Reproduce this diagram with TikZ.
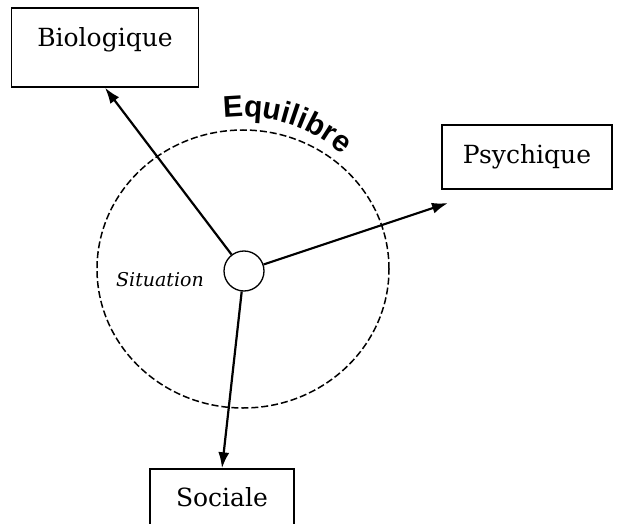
\documentclass[tikz,border=0pt]{standalone}
\usepackage{fontspec}
\setmainfont{DejaVu Serif}
\newfontfamily\equifont{Liberation Sans}
\usetikzlibrary{arrows.meta, positioning, decorations.text}

\begin{document}
\begin{tikzpicture}[x=1pt, y=1pt,
    box/.style={draw, line width=1.4pt, inner sep=0pt, font=\fontsize{25}{30}\selectfont},
    link/.style={-{Latex[length=16pt, width=11pt]}, line width=2.2pt}]
  \useasboundingbox (0,0) rectangle (618,523);
  \clip (0,0) rectangle (618,523);
  % equilibre zone
  \draw[line width=1.5pt, dash pattern=on 7pt off 3pt] (243,254) ellipse [x radius=146, y radius=139];
  \path[decorate, decoration={text along path, text align=center,
      text={|\equifont\bfseries\fontsize{30}{34}\selectfont|Equilibre}}]
    (222,404.5) arc[start angle=98, end angle=48, radius=151];
  \node (sit) [draw, circle, minimum size=40pt, line width=1.3pt] at (244,252) {};
  \node (sitlabel) [font=\itshape\fontsize{19}{22}\selectfont] at (160,243) {Situation};
  % the three poles
  \node (bio) [box, minimum width=187pt, minimum height=79pt, text height=18pt, text depth=19pt] at (105,475.5) {Biologique};
  \node (psy) [box, minimum width=170pt, minimum height=64pt] at (527,366) {Psychique};
  \node (soc) [box, minimum width=144pt, minimum height=57pt] at (222,25.5) {Sociale};
  \coordinate (psytip) at (448,320);
  \draw[link] (sit) -- (bio.south);
  \draw[link] (sit) -- (psytip);
  \draw[link] (sit) -- (soc.north);
\end{tikzpicture}
\end{document}
